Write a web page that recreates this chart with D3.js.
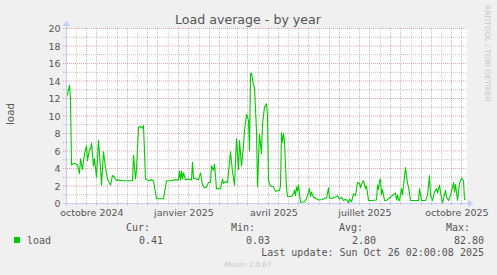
<!DOCTYPE html>
<html>
<head>
<meta charset="utf-8">
<script src="https://cdn.jsdelivr.net/npm/d3@7"></script>
<style>
  html, body { margin: 0; padding: 0; background: #f0f0f0; }
  svg { display: block; }
</style>
</head>
<body>
<div id="chart"></div>
<script>
// graph window: 400 days ending at last update
const startDate = new Date(2024, 8, 21, 2);
const endDate = new Date(2025, 9, 26, 2);

// day offset from startDate, and load read at that day
const dayOffsets = [
  0, 1, 3, 4, 5, 6, 8, 11, 13, 14, 16, 18, 20, 21, 23, 24, 25, 27, 28, 30,
  32, 34, 35, 37, 39, 41, 44, 46, 48, 50, 52, 55, 60, 66, 67, 69, 70, 72, 74, 76,
  77, 79, 82, 85, 87, 90, 97, 100, 104, 108, 112, 113, 114, 115, 116, 117, 119, 122, 125, 126,
  127, 130, 132, 134, 136, 138, 140, 142, 144, 145, 147, 148, 150, 154, 156, 157, 159, 161, 164, 166,
  168, 170, 172, 173, 175, 177, 178, 180, 182, 183, 184, 185, 187, 188, 190, 191, 193, 195, 196, 198,
  200, 201, 202, 204, 207, 209, 213, 214, 215, 216, 217, 218, 220, 221, 225, 227, 228, 229, 230, 231,
  232, 234, 238, 240, 243, 244, 245, 247, 249, 252, 256, 258, 260, 262, 263, 266, 268, 271, 273, 275,
  277, 279, 281, 282, 283, 285, 287, 289, 291, 293, 294, 295, 297, 299, 300, 302, 305, 310, 311, 312,
  313, 314, 315, 316, 318, 320, 329, 330, 331, 332, 333, 335, 336, 339, 341, 342, 344, 352, 353, 355,
  359, 361, 363, 364, 366, 368, 370, 371, 373, 375, 376, 379, 380, 382, 384, 387, 388, 389, 391, 393,
  395, 397, 398, 399
];
const loadValues = [
  12.2, 12.5, 13.5, 12.0, 4.4, 4.5, 4.6, 4.4, 3.4, 5.1, 3.9, 5.7, 6.6, 4.9, 6.2, 6.2, 6.9, 4.3, 5.1, 3.0,
  7.2, 4.1, 2.1, 5.9, 4.1, 2.8, 2.1, 3.2, 3.0, 2.6, 2.7, 2.6, 2.6, 2.6, 5.5, 2.8, 3.9, 8.7, 8.8, 8.6,
  8.9, 2.8, 2.6, 2.7, 2.6, 0.55, 0.55, 2.6, 2.6, 2.7, 2.7, 3.7, 2.7, 3.7, 2.8, 3.5, 2.7, 2.8, 2.7, 4.7,
  2.9, 2.8, 2.7, 3.5, 2.1, 1.8, 1.9, 2.4, 2.4, 4.3, 3.8, 4.5, 1.7, 1.7, 2.8, 2.3, 2.5, 2.4, 5.9, 3.6,
  2.1, 7.4, 3.9, 7.2, 4.3, 6.6, 8.3, 10.2, 9.5, 6.0, 14.8, 14.9, 13.5, 13.3, 8.3, 1.9, 7.9, 5.7, 9.1, 11.0,
  11.4, 10.0, 2.6, 2.0, 1.9, 1.4, 1.5, 2.0, 8.1, 7.0, 8.0, 7.0, 1.8, 0.8, 0.8, 1.1, 1.5, 0.9, 1.9, 1.4,
  2.1, 0.15, 0.2, 0.55, 1.7, 0.8, 1.3, 0.7, 0.6, 0.4, 0.45, 0.6, 0.6, 1.8, 0.6, 0.6, 0.7, 0.9, 0.5, 0.7,
  0.35, 0.5, 0.3, 0.03, 0.5, 0.2, 1.1, 0.9, 2.4, 2.3, 1.8, 2.2, 2.6, 1.7, 2.0, 0.35, 0.35, 0.4, 2.1, 1.6,
  2.6, 2.8, 1.0, 1.6, 0.35, 0.35, 1.2, 0.4, 1.0, 0.4, 0.35, 1.7, 1.0, 4.1, 2.3, 1.9, 0.35, 0.35, 1.7, 0.35,
  0.35, 0.9, 3.2, 0.9, 0.35, 1.3, 1.7, 1.2, 2.1, 0.55, 0.1, 1.5, 0.7, 0.35, 0.9, 2.4, 1.3, 2.2, 0.35, 2.3,
  2.9, 2.6, 0.5, 0.41
];

const yTicks = [0, 2, 4, 6, 8, 10, 12, 14, 16, 18, 20];
const monthLabels = ["octobre 2024", "janvier 2025", "avril 2025", "juillet 2025", "octobre 2025"];
const labelDates = [new Date(2024, 9, 16), new Date(2025, 0, 16), new Date(2025, 3, 16), new Date(2025, 6, 16), new Date(2025, 9, 16)];

const legendHeaders = ["Cur:", "Min:", "Avg:", "Max:"];
const legendValues = ["0.41", "0.03", "2.80", "82.80"];

const W = 497, H = 275;
const sans = "'DejaVu Sans', sans-serif";
const mono = "'DejaVu Sans Mono', monospace";
const textColor = "#555";

const svg = d3.select("#chart").append("svg")
  .attr("width", W).attr("height", H);

svg.append("rect").attr("width", W).attr("height", H).attr("fill", "#f0f0f0");

const x = d3.scaleTime().domain([startDate, endDate]).range([66.5, 466.5]);
const y = d3.scaleLinear().domain([0, 20]).range([203.5, 28.5]);

// canvas
svg.append("rect")
  .attr("x", 66).attr("y", 28).attr("width", 401).attr("height", 176)
  .attr("fill", "#fff");

const grid = svg.append("g").attr("stroke-width", 1).attr("stroke-dasharray", "1,1");
const minorCol = "rgba(120,120,120,0.45)";
const majorCol = "rgba(235,40,40,0.42)";
const majorVCol = "rgba(235,60,60,0.3)";

// vertical minor grid on 11th and 21st, major on month start
const minorDays = d3.timeDay.range(startDate, endDate).filter(d => d.getDate() === 11 || d.getDate() === 21);
const majorDays = d3.timeMonth.range(startDate, endDate);

grid.selectAll("line.vmin").data(minorDays).enter().append("line")
  .attr("x1", d => Math.round(x(d)) + 0.5).attr("x2", d => Math.round(x(d)) + 0.5)
  .attr("y1", 28).attr("y2", 205)
  .attr("stroke", minorCol);

grid.selectAll("line.vmaj").data(majorDays).enter().append("line")
  .attr("x1", d => Math.round(x(d)) + 0.5).attr("x2", d => Math.round(x(d)) + 0.5)
  .attr("y1", 28).attr("y2", 206)
  .attr("stroke", majorVCol);

// horizontal grid: odd = minor, even = major
const hVals = d3.range(1, 21);
grid.selectAll("line.h").data(hVals).enter().append("line")
  .attr("x1", 63).attr("x2", 467)
  .attr("y1", d => y(d)).attr("y2", d => y(d))
  .attr("stroke", d => d % 2 ? minorCol : majorCol);

// data line
const line = d3.line()
  .x(d => x(d3.timeDay.offset(startDate, d[0])))
  .y(d => y(d[1]));

svg.append("path")
  .datum(dayOffsets.map((d, i) => [d, loadValues[i]]))
  .attr("fill", "none")
  .attr("stroke", "#00cc00")
  .attr("stroke-width", 1.1)
  .attr("stroke-linejoin", "round")
  .attr("d", line);

// axes lines + arrows
const axisCol = "#c5cdf6";
svg.append("line").attr("x1", 63).attr("x2", 469).attr("y1", 203.5).attr("y2", 203.5).attr("stroke", axisCol);
svg.append("line").attr("x1", 66.5).attr("x2", 66.5).attr("y1", 206).attr("y2", 25).attr("stroke", axisCol);
svg.append("path").attr("d", "M468,200L473.5,203.5L468,207Z").attr("fill", axisCol);
svg.append("path").attr("d", "M63,26L66.5,20.5L70,26Z").attr("fill", axisCol);

// y tick labels
const yAxis = svg.append("g")
  .attr("transform", "translate(66.5,0)")
  .call(d3.axisLeft(y).tickValues(yTicks).tickSize(0).tickPadding(6));
yAxis.select(".domain").remove();
yAxis.attr("font-family", sans).attr("font-size", 9.5).style("color", textColor);

// x labels
const xAxis = svg.append("g")
  .attr("transform", "translate(0,203.5)")
  .call(d3.axisBottom(x).tickValues(labelDates).tickFormat((d, i) => monthLabels[i]).tickSize(0).tickPadding(5.3));
xAxis.select(".domain").remove();
xAxis.attr("font-family", sans).attr("font-size", 9.5).style("color", textColor);

// title
svg.append("text")
  .attr("x", 248).attr("y", 24.3)
  .attr("text-anchor", "middle")
  .attr("font-family", sans).attr("font-size", 12.6)
  .attr("fill", textColor)
  .text("Load average - by year");

// y axis label
svg.append("text")
  .attr("transform", "translate(14,114) rotate(-90)")
  .attr("text-anchor", "middle")
  .attr("font-family", sans).attr("font-size", 10.3)
  .attr("fill", textColor)
  .text("load");

// watermark
svg.append("text")
  .attr("transform", "translate(484.5,5) rotate(90)")
  .attr("font-family", sans).attr("font-size", 7.5)
  .attr("fill", "#c8c8c8")
  .text("RRDTOOL / TOBI OETIKER");

// legend
const headerEnds = [150, 255, 363, 470];
const valueEnds = [163, 270, 376, 484];
const legend = svg.append("g").attr("font-family", mono).attr("font-size", 10).attr("fill", textColor);

legend.selectAll("text.hd").data(legendHeaders).enter().append("text")
  .attr("x", (d, i) => headerEnds[i]).attr("y", 231.3)
  .attr("text-anchor", "end").text(d => d);

legend.selectAll("text.val").data(legendValues).enter().append("text")
  .attr("x", (d, i) => valueEnds[i]).attr("y", 243.5)
  .attr("text-anchor", "end").text(d => d);

legend.append("rect").attr("x", 14).attr("y", 237).attr("width", 6).attr("height", 6).attr("fill", "#00cc00");
legend.append("text").attr("x", 27).attr("y", 243.5).text("load");

legend.append("text")
  .attr("x", 484).attr("y", 255.5).attr("text-anchor", "end")
  .text("Last update: Sun Oct 26 02:00:08 2025");

svg.append("text")
  .attr("x", 248).attr("y", 266.5)
  .attr("text-anchor", "middle")
  .attr("font-family", sans).attr("font-size", 7.2)
  .attr("fill", "#c8c8c8")
  .text("Munin 2.0.67");
</script>
</body>
</html>
